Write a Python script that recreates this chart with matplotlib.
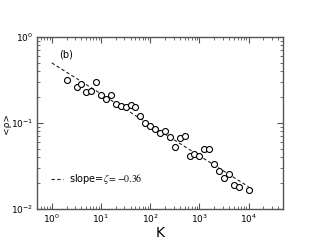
import matplotlib
matplotlib.use("Agg")
import matplotlib.pyplot as plt
import numpy as np

K = [2, 3.2, 4, 5, 6.3, 8, 10, 12.6, 15.8, 20, 25, 32, 40, 50, 63, 79, 100, 126,
     158, 200, 251, 316, 398, 501, 631, 794, 1000, 1259, 1585, 1995, 2512, 3162,
     3981, 5012, 6310, 10000]
rho = [0.316, 0.264, 0.282, 0.227, 0.234, 0.304, 0.212, 0.189, 0.211, 0.166, 0.158,
       0.153, 0.161, 0.155, 0.122, 0.100, 0.0935, 0.0845, 0.076, 0.0807, 0.0688,
       0.0526, 0.0664, 0.070, 0.0413, 0.0434, 0.0417, 0.0502, 0.0502, 0.0336,
       0.0278, 0.0231, 0.0253, 0.019, 0.0179, 0.0168]
fit_K = [1, 10000]
fit_amp = 0.5
fit_slope = -0.36

plt.rcParams['mathtext.fontset'] = 'stix'
fig = plt.figure(figsize=(3.19, 2.47), dpi=100)
ax = fig.add_axes([0.116, 0.154, 0.771, 0.696])

fk = np.array(fit_K, dtype=float)
ax.plot(fk, fit_amp * fk ** fit_slope, color='#222222', lw=0.8, ls=(0, (3, 2.2)),
        label=r'slope=$\zeta = -0.36$')
ax.plot(K, rho, ls='none', marker='o', ms=4.3, mfc='white', mec='black', mew=0.8)

ax.set_xscale('log')
ax.set_yscale('log')
ax.set_xlim(0.5, 5e4)
ax.set_ylim(0.01, 1)

ax.set_xlabel('K', fontsize=10, labelpad=1)
ax.set_ylabel('<ρ>', fontsize=6.5, va='center')
ax.yaxis.set_label_coords(-0.124, 0.5)
ax.tick_params(which='both', direction='in', top=True, right=True, labelsize=6.5,
               color='#555555')
ax.tick_params(which='major', length=4, width=0.8, pad=2.5)
ax.tick_params(which='minor', length=2, width=0.6)
for s in ax.spines.values():
    s.set_color('#555555')
    s.set_linewidth(1.0)

ax.text(0.09, 0.9, '(b)', transform=ax.transAxes, fontsize=7, va='center')
ax.legend(loc='lower left', bbox_to_anchor=(0.02, 0.08), frameon=False, fontsize=7,
          handlelength=1.3, handletextpad=0.6)

fig.savefig('out.png', dpi=100)
